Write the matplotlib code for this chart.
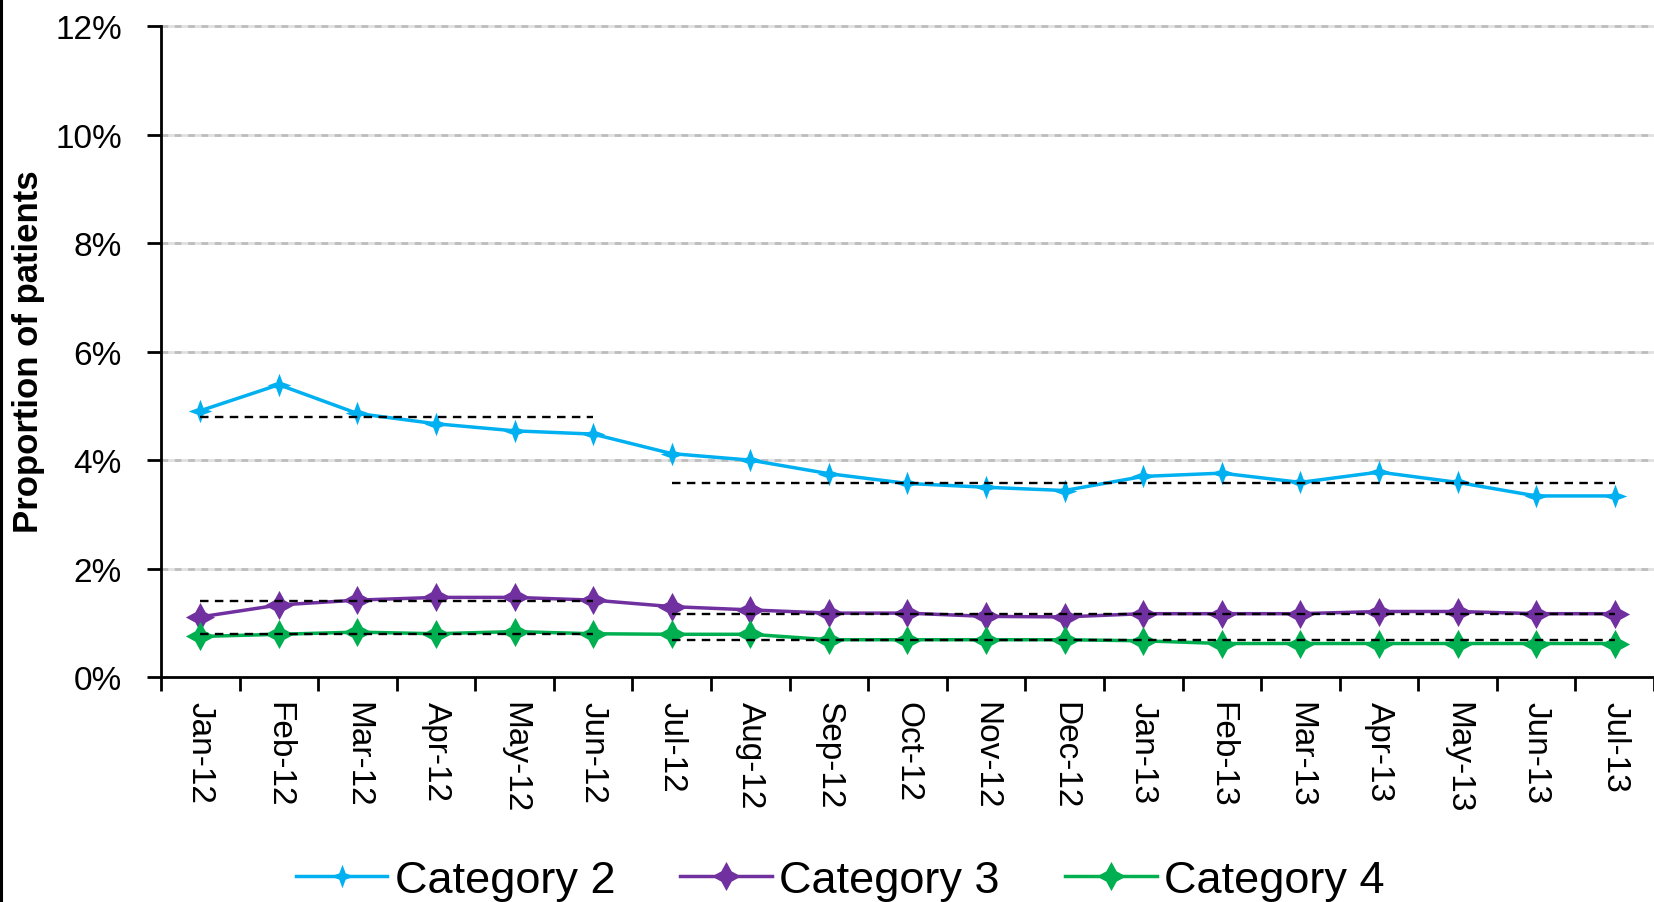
import matplotlib
matplotlib.use("Agg")
import matplotlib.pyplot as plt
from matplotlib.path import Path
from matplotlib.lines import Line2D
import numpy as np

plt.rcParams['font.family'] = ['Liberation Sans', 'DejaVu Sans']

# Monthly categories
months = ['Jan-12', 'Feb-12', 'Mar-12', 'Apr-12', 'May-12', 'Jun-12', 'Jul-12',
          'Aug-12', 'Sep-12', 'Oct-12', 'Nov-12', 'Dec-12', 'Jan-13', 'Feb-13',
          'Mar-13', 'Apr-13', 'May-13', 'Jun-13', 'Jul-13']

# Proportion of patients (%) per category
category_2 = [4.91, 5.39, 4.86, 4.67, 4.54, 4.48, 4.12, 4.00, 3.75, 3.57,
              3.50, 3.44, 3.70, 3.76, 3.59, 3.78, 3.59, 3.34, 3.34]
category_3 = [1.11, 1.33, 1.42, 1.47, 1.47, 1.42, 1.30, 1.24, 1.18, 1.18,
              1.12, 1.11, 1.17, 1.17, 1.17, 1.21, 1.21, 1.17, 1.17]
category_4 = [0.75, 0.79, 0.83, 0.80, 0.84, 0.80, 0.79, 0.79, 0.69, 0.69,
              0.69, 0.69, 0.67, 0.62, 0.62, 0.62, 0.62, 0.62, 0.62]

# Reference levels for the two periods
periods = [('Jan-12', 'Jun-12'), ('Jul-12', 'Jul-13')]
baseline_2 = [4.79, 3.58]
baseline_3 = [1.41, 1.16]
baseline_4 = [0.79, 0.68]

series_names = ['Category 2', 'Category 3', 'Category 4']
series_colors = ['#00B0F0', '#7030A0', '#00B050']

y_ticks = [0, 2, 4, 6, 8, 10, 12]


def star_marker(inner):
    """Four-pointed star: outer points on the axes, inner points on diagonals."""
    verts = []
    for k in range(4):
        a = np.pi / 2 * k
        verts.append((np.cos(a), np.sin(a)))
        b = a + np.pi / 4
        verts.append((inner * np.cos(b), inner * np.sin(b)))
    verts.append(verts[0])
    codes = [Path.MOVETO] + [Path.LINETO] * (len(verts) - 2) + [Path.CLOSEPOLY]
    return Path(verts, codes)


fig = plt.figure(figsize=(16.54, 9.03), dpi=100)
ax = fig.add_axes([0.0973, 0.249, 0.9027, 0.721])

x = np.arange(len(months))
series = [category_2, category_3, category_4]
markers = [star_marker(0.38), star_marker(0.5), star_marker(0.5)]
msizes = [17, 21, 21]

handles = []
for vals, name, col, mk, ms in zip(series, series_names, series_colors, markers, msizes):
    h, = ax.plot(x, vals, color=col, lw=2.5, marker=mk, markersize=ms,
                 markeredgewidth=0, markerfacecolor=col, label=name, zorder=3,
                 clip_on=False)
    handles.append(h)

# Dashed period reference lines
for levels in [baseline_2, baseline_3, baseline_4]:
    for (start, end), lvl in zip(periods, levels):
        i0, i1 = months.index(start), months.index(end)
        ax.plot([i0, i1], [lvl, lvl], color='black', lw=1.7,
                linestyle=(0, (3.6, 2.7)), zorder=5)

# Grid lines: pale base with grey dashes
for yv in y_ticks[1:]:
    ax.axhline(yv, color='#e0e0e0', lw=2, zorder=1, clip_on=False)
    ax.axhline(yv, color='#bdbdbd', lw=2, linestyle=(0, (2.4, 2.4)),
               zorder=1.1, clip_on=False)

ax.set_xlim(-0.5, len(months) - 0.5)
ax.set_ylim(0, 12)

ax.set_yticks(y_ticks)
ax.set_yticklabels([f'{v}%' for v in y_ticks], fontsize=24)
ax.tick_params(axis='y', length=10, width=2, pad=18, direction='out')

ax.set_xticks(x)
ax.set_xticklabels(months, rotation=270, fontsize=24, va='top', ha='center')
ax.set_xticks(np.arange(-0.5, len(months)), minor=True)
ax.tick_params(axis='x', which='major', length=0, pad=17)
ax.tick_params(axis='x', which='minor', length=10, width=2, direction='out')

for side in ['top', 'right']:
    ax.spines[side].set_visible(False)
for side in ['left', 'bottom']:
    ax.spines[side].set_linewidth(2)

fig.text(0.0172, 0.610, 'Proportion of patients', rotation=90, fontsize=25,
         fontweight='bold', ha='center', va='center')

leg = fig.legend(handles=handles, loc='center', bbox_to_anchor=(0.508, 0.024),
                 ncol=3, frameon=False, fontsize=32.5, handlelength=2.03,
                 handletextpad=0.16, columnspacing=1.45, borderpad=0,
                 borderaxespad=0)

# Thin border mark along the left edge
fig.add_artist(Line2D([0.0009, 0.0009], [0, 1], transform=fig.transFigure,
                      color='black', lw=2.2))

fig.savefig('out.png', dpi=100)
